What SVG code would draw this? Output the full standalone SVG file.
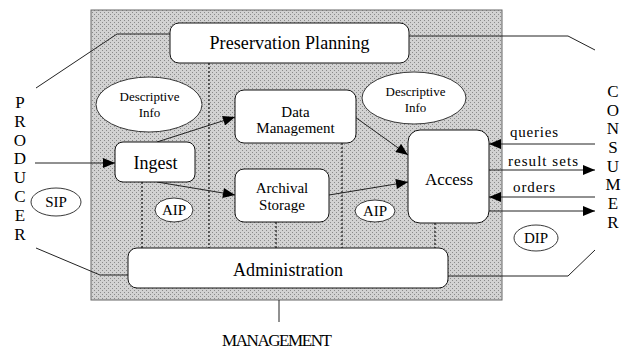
<svg xmlns="http://www.w3.org/2000/svg" width="632" height="349" viewBox="0 0 632 349" font-family="'Liberation Serif', 'DejaVu Serif', serif">
<style>
text{font-family:'Liberation Serif','DejaVu Serif',serif;fill:#000;text-anchor:middle}
.box{fill:#fff;stroke:#111;stroke-width:1}
.ell{fill:#fff;stroke:#222;stroke-width:0.9}
.ln{fill:none;stroke:#222;stroke-width:1}
.dot{fill:none;stroke:#111;stroke-width:1.2;stroke-dasharray:2 2}
.big{font-size:18px}
.mid{font-size:15px}
.sm{font-size:13px}
.side{font-size:17px}
</style>
<defs>
<pattern id="stip" width="4" height="4" patternUnits="userSpaceOnUse">
<rect width="4" height="4" fill="#d2d2d2"/>
<rect x="0" y="0" width="1" height="1" fill="#8a8a8a"/>
<rect x="2" y="2" width="1" height="1" fill="#8a8a8a"/>
</pattern>
<marker id="ah" viewBox="0 0 12 10" refX="12" refY="5" markerWidth="13" markerHeight="10" markerUnits="userSpaceOnUse" orient="auto">
<path d="M0,0 L12,5 L0,10 Z" fill="#000"/>
</marker>
</defs>

<rect id="background" x="91" y="10" width="411" height="290" fill="url(#stip)" stroke="#666" stroke-width="1"/>

<g id="connectors">
<polyline class="ln" points="170,34 117,34 36,88"/>
<polyline class="ln" points="128,275 100,275 36,248"/>
<polyline class="ln" points="409,36 568,36 595,50"/>
<polyline class="ln" points="448,276 568,276 595,250"/>
<line class="ln" x1="279" y1="300" x2="279" y2="322"/>
<line class="dot" x1="209" y1="63" x2="209" y2="248"/>
<line class="dot" x1="142" y1="182" x2="142" y2="248"/>
<line class="dot" x1="276" y1="222" x2="276" y2="248"/>
<line class="dot" x1="342" y1="143" x2="342" y2="248"/>
<line class="dot" x1="435" y1="223" x2="435" y2="248"/>
<line class="ln" x1="35" y1="163" x2="115" y2="163" marker-end="url(#ah)"/>
<line class="ln" x1="157" y1="142" x2="235" y2="117" marker-end="url(#ah)"/>
<line class="ln" x1="157" y1="182" x2="235" y2="195" marker-end="url(#ah)"/>
<line class="ln" x1="355" y1="117" x2="408" y2="155" marker-end="url(#ah)"/>
<line class="ln" x1="329" y1="195" x2="408" y2="182" marker-end="url(#ah)"/>
<line class="ln" x1="595" y1="144" x2="489" y2="144" marker-end="url(#ah)"/>
<line class="ln" x1="489" y1="170" x2="595" y2="170" marker-end="url(#ah)"/>
<line class="ln" x1="595" y1="197" x2="489" y2="197" marker-end="url(#ah)"/>
<line class="ln" x1="489" y1="211" x2="595" y2="211" marker-end="url(#ah)"/>
</g>

<g id="preservation-planning">
<rect class="box" x="170" y="23" width="239" height="40" rx="9"/>
<text class="big" x="289.5" y="49" textLength="160">Preservation Planning</text>
</g>
<g id="descriptive-info-left">
<ellipse class="ell" cx="149" cy="104.5" rx="53" ry="27.5"/>
<text class="sm" x="149.5" y="101">Descriptive</text>
<text class="sm" x="149.5" y="117">Info</text>
</g>
<g id="descriptive-info-right">
<ellipse class="ell" cx="414" cy="98" rx="52" ry="26"/>
<text class="sm" x="415.5" y="96">Descriptive</text>
<text class="sm" x="415.5" y="112">Info</text>
</g>
<g id="ingest">
<rect class="box" x="115" y="142" width="80" height="40" rx="8"/>
<text class="big" x="155.5" y="169">Ingest</text>
</g>
<g id="data-management">
<rect class="box" x="235" y="90" width="121" height="53" rx="9"/>
<text class="mid" x="295.5" y="117">Data</text>
<text class="mid" x="295.5" y="133">Management</text>
</g>
<g id="archival-storage">
<rect class="box" x="235" y="169" width="94" height="53" rx="9"/>
<text class="mid" x="282" y="193">Archival</text>
<text class="mid" x="282" y="210">Storage</text>
</g>
<g id="access">
<rect class="box" x="408" y="130" width="81" height="93" rx="12"/>
<text class="side" x="449" y="185">Access</text>
</g>
<g id="administration">
<rect class="box" x="128" y="248" width="320" height="40" rx="9"/>
<text class="big" x="288" y="276" textLength="110">Administration</text>
</g>
<g id="sip">
<ellipse class="ell" cx="56" cy="202" rx="25" ry="14"/>
<text class="mid" x="56" y="207">SIP</text>
</g>
<g id="aip-left">
<ellipse class="ell" cx="174" cy="210" rx="19" ry="12"/>
<text class="mid" x="174" y="215">AIP</text>
</g>
<g id="aip-right">
<ellipse class="ell" cx="375" cy="211" rx="20" ry="11"/>
<text class="mid" x="375" y="216">AIP</text>
</g>
<g id="dip">
<ellipse class="ell" cx="536" cy="238" rx="22" ry="13"/>
<text class="mid" x="536" y="243">DIP</text>
</g>
<g id="labels">
<text class="mid" x="534" y="137" textLength="48">queries</text>
<text class="mid" x="543" y="166" textLength="70">result sets</text>
<text class="mid" x="534" y="192" textLength="42">orders</text>
<text class="side" x="277" y="346" textLength="110">MANAGEMENT</text>
</g>
<g id="producer">
<text class="side" x="20" y="108">P</text>
<text class="side" x="20" y="127">R</text>
<text class="side" x="20" y="145.5">O</text>
<text class="side" x="20" y="164">D</text>
<text class="side" x="20" y="183">U</text>
<text class="side" x="20" y="202">C</text>
<text class="side" x="20" y="220.5">E</text>
<text class="side" x="20" y="239.5">R</text>
</g>
<g id="consumer">
<text class="side" x="613" y="97">C</text>
<text class="side" x="613" y="115.6">O</text>
<text class="side" x="613" y="134">N</text>
<text class="side" x="613" y="153">S</text>
<text class="side" x="613" y="171.5">U</text>
<text class="side" x="613" y="190">M</text>
<text class="side" x="613" y="209">E</text>
<text class="side" x="613" y="228">R</text>
</g>
</svg>
